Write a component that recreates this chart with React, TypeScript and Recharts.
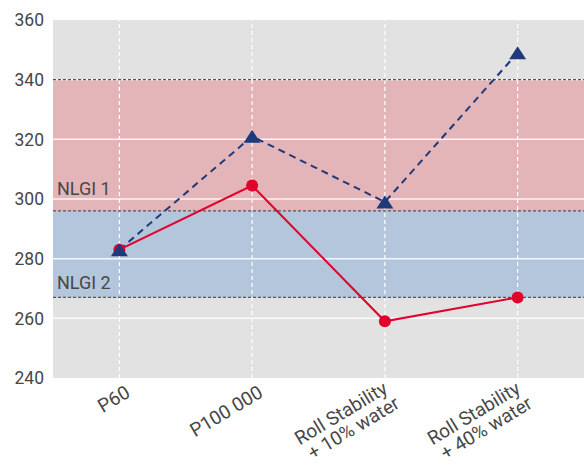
import React from 'react';
import { LineChart, Line, XAxis, YAxis, ReferenceArea, ReferenceLine } from 'recharts';

// categories, as written under the x axis
const categories = ['P60', 'P100 000', 'Roll Stability\n+ 10% water', 'Roll Stability\n+ 40% water'];
// triangles, dashed navy line
const dashedSeries = [283, 321, 299, 349];
// circles, solid red line
const solidSeries = [283, 304.5, 259, 267];
const yTicks = [240, 260, 280, 300, 320, 340, 360];
const gridValues = [260, 280, 300, 320, 340];
// NLGI bands: [bottom, top]
const nlgi1Band = [296, 340];
const nlgi2Band = [267, 296];
const bandLabels = ['NLGI 1', 'NLGI 2'];

const data = categories.map((name, i) => ({
  name,
  dashed: dashedSeries[i],
  solid: solidSeries[i],
}));

const textColor = '#474747';
const fontFamily = 'Roboto, sans-serif';

const CategoryTick = (props: any) => {
  const { x, y, payload } = props;
  const lines: string[] = String(payload.value).split('\n');
  const multi = lines.length > 1;
  const dx = multi ? 4 : 12;
  const dy = multi ? 6 : 10;
  return (
    <g transform={`translate(${x + dx},${y + dy})`}>
      <text transform="rotate(-31)" textAnchor="end" fill={textColor} fontSize={19} fontFamily={fontFamily}>
        {lines.map((line, i) => (
          <tspan key={i} x={i === 0 ? 0 : 2.5} dy={i === 0 ? 0 : 19}>
            {line}
          </tspan>
        ))}
      </text>
    </g>
  );
};

// band name drawn just above the lower edge of its band
const BandLabel = (props: any) => {
  const { viewBox, value, lift } = props;
  if (!viewBox) return null;
  return (
    <text x={viewBox.x + 4} y={viewBox.y + viewBox.height - lift} fill={textColor} fontSize={18} fontFamily={fontFamily}>
      {value}
    </text>
  );
};

const Triangle = (props: any) => {
  const { cx, cy, index } = props;
  if (cx == null || cy == null) return <g key={`t-${index}`} />;
  const w = 8.5;
  const h = 6.5;
  return (
    <polygon
      key={`t-${index}`}
      points={`${cx},${cy - h} ${cx - w},${cy + h} ${cx + w},${cy + h}`}
      fill="#1e3a7b"
    />
  );
};

const App: React.FC = () => {
  return (
    <div style={{ position: 'absolute', left: 0, top: 0, width: 584, height: 466, background: '#fff' }}>
      <LineChart width={584} height={466} data={data} margin={{ top: 20, right: 0, left: 0, bottom: 0 }}>
        {/* grey background, then the two bands */}
        <ReferenceArea y1={240} y2={360} fill="#e2e2e2" fillOpacity={1} stroke="none" />
        <ReferenceArea
          y1={nlgi1Band[0]}
          y2={nlgi1Band[1]}
          fill="#e3b5b8"
          fillOpacity={1}
          stroke="none"
          label={<BandLabel value={bandLabels[0]} lift={16} />}
        />
        <ReferenceArea
          y1={nlgi2Band[0]}
          y2={nlgi2Band[1]}
          fill="#b4c6dc"
          fillOpacity={1}
          stroke="none"
          label={<BandLabel value={bandLabels[1]} lift={8} />}
        />
        {gridValues.map((v) => (
          <ReferenceLine key={`h-${v}`} y={v} stroke="#ffffff" strokeWidth={1.5} strokeOpacity={0.85} />
        ))}
        {categories.map((c) => (
          <ReferenceLine key={`v-${c}`} x={c} stroke="#ffffff" strokeWidth={1.2} strokeDasharray="4 3" />
        ))}
        {[nlgi1Band[1], nlgi1Band[0], nlgi2Band[0]].map((v) => (
          <ReferenceLine key={`b-${v}`} y={v} stroke="#555555" strokeWidth={1.2} strokeDasharray="3 2" />
        ))}
        <XAxis
          dataKey="name"
          type="category"
          scale="band"
          interval={0}
          axisLine={false}
          tickLine={false}
          height={88}
          tick={<CategoryTick />}
        />
        <YAxis
          type="number"
          domain={[240, 360]}
          ticks={yTicks}
          width={53}
          axisLine={false}
          tickLine={false}
          tickMargin={3}
          tick={{ fill: textColor, fontSize: 17.5, fontFamily }}
        />
        <Line
          dataKey="solid"
          stroke="#e2002d"
          strokeWidth={2}
          dot={{ r: 6, fill: '#e2002d', stroke: 'none' }}
          activeDot={false}
          isAnimationActive={false}
        />
        <Line
          dataKey="dashed"
          stroke="#1e3a7b"
          strokeWidth={2}
          strokeDasharray="7 5"
          dot={<Triangle />}
          activeDot={false}
          isAnimationActive={false}
        />
      </LineChart>
    </div>
  );
};

export default App;
